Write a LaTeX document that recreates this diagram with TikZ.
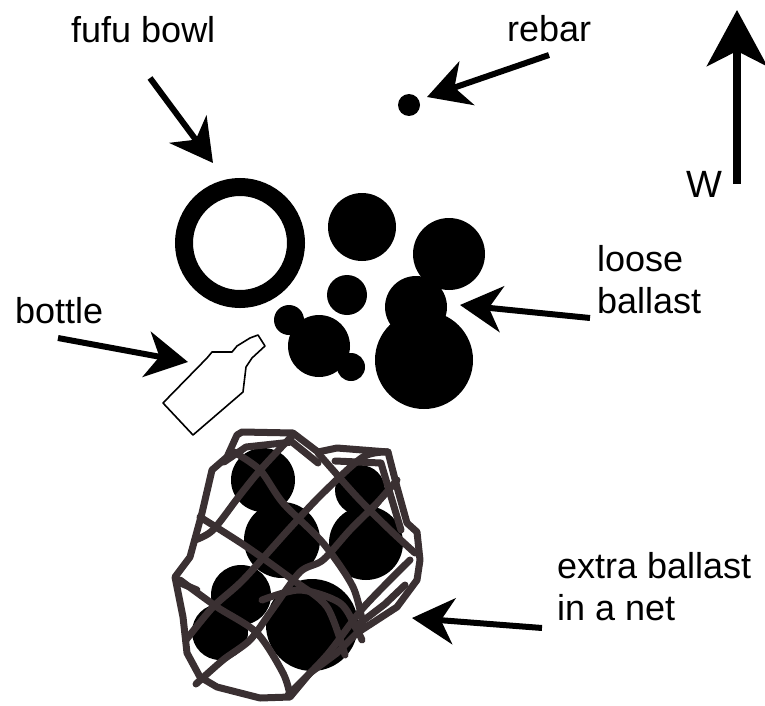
\documentclass[tikz,border=0pt]{standalone}
\usepackage{fontspec}
\setmainfont{Liberation Sans}
\usetikzlibrary{arrows.meta}
\definecolor{netc}{RGB}{58,48,50}
\tikzset{
  tag/.style={font=\fontsize{36}{42}\selectfont, anchor=base west, inner sep=0pt, align=left},
  pointer/.style={line width=6pt, -{Stealth[length=42pt,width=46pt,inset=13pt]}},
  north arrow/.style={line width=8.5pt, -{Stealth[length=56pt,width=60pt,inset=15pt]}},
  stone/.style={fill=black},
  netline/.style={draw=netc, line width=7pt, line join=round, line cap=round},
}
\begin{document}
\begin{tikzpicture}[x=1pt,y=-1pt]
\useasboundingbox (0,0) rectangle (765,706);

% labels
\node[tag] (fufu) at (71,43) {fufu bowl};
\node[tag] (rebarlbl) at (507,42) {rebar};
\node[tag, font=\fontsize{38}{42}\selectfont] (west) at (686,197) {W};
\node[tag] (bottlelbl) at (15,323) {bottle};
\node[tag] (loose) at (597,313) {loose\\ballast};
\node[tag] (extra) at (557,620) {extra ballast\\in a net};

% fufu bowl
\draw[line width=18pt] (240,243) circle[radius=56];

% rebar
\fill (409,105) circle[radius=11];

% loose ballast stones
\fill[stone] (362,227) circle[radius=34];
\fill[stone] (347,295) circle[radius=20];
\fill[stone] (449,254) circle[radius=36];
\fill[stone] (416,307) circle[radius=31];
\fill[stone] (424,360) circle[radius=49];
\fill[stone] (289,320) circle[radius=15];
\fill[stone] (319,346) circle[radius=31];
\fill[stone] (351,367) circle[radius=14];

% bottle
\draw[line width=1.6pt, fill=white, line join=round]
  (163,403) -- (193,435) -- (243,392) -- (246,367) -- (252,358) -- (265,346)
  -- (258,335) -- (250,338) -- (237,346) -- (232,352) -- (212,352) -- (207,358) -- cycle;

% extra ballast stones under the net
\fill[stone] (263,480) circle[radius=32];
\fill[stone] (282,540) circle[radius=38];
\fill[stone] (360,490) circle[radius=25];
\fill[stone] (366,543) circle[radius=37];
\fill[stone] (241,595) circle[radius=30];
\fill[stone] (220,632) circle[radius=28];
\fill[stone] (312,625) circle[radius=46];

% net outline
\draw[netline]
  (242,432) -- (293,433) -- (318,452) -- (337,448) -- (388,452) -- (397,487)
  -- (407,523) -- (417,532) -- (420,560) -- (417,580) -- (397,607) -- (357,633)
  -- (337,653) -- (310,673) -- (290,697) -- (260,698) -- (217,687) -- (200,677)
  -- (187,653) -- (183,617) -- (175,577) -- (190,557) -- (202,513) -- (212,470)
  -- (227,457) -- (237,435) -- cycle;
% inner edge strands
\draw[netline] (224,462) -- (246,447) -- (292,442) -- (318,463);
\draw[netline] (335,461) -- (381,463) -- (392,500) -- (401,530);
\draw[netline] (405,585) -- (385,604) -- (355,627);
\draw[netline] (178,582) -- (197,590);
% strands running up to the right
\draw[netline] plot[smooth] coordinates {(195,540) (213,530) (240,495) (262,468) (292,436)};
\draw[netline] plot[smooth] coordinates {(186,640) (213,607) (243,580) (290,528) (323,493) (363,457) (388,452)};
\draw[netline] plot[smooth] coordinates {(196,684) (223,660) (250,640) (272,610) (300,572) (323,560) (350,530) (377,503) (397,480)};
\draw[netline] plot[smooth] coordinates {(288,695) (327,655) (363,608) (410,560)};
% strands running down to the right
\draw[netline] plot[smooth] coordinates {(234,452) (260,470) (283,503) (323,543) (353,587) (363,625)};
\draw[netline] plot[smooth] coordinates {(200,517) (247,547) (293,580) (327,607) (345,655)};
\draw[netline] plot[smooth] coordinates {(180,580) (217,607) (257,633) (283,673) (290,695)};
\draw[netline] plot[smooth] coordinates {(318,453) (357,497) (390,530) (415,553)};
\draw[netline] plot[smooth] coordinates {(262,600) (300,590) (340,603) (357,630) (362,640)};

% arrow end points
\coordinate (fufuTail) at (150,78);
\coordinate (fufuTip) at (213,163);
\coordinate (rebarTail) at (549,55);
\coordinate (rebarTip) at (427,97);
\coordinate (westTail) at (737,184);
\coordinate (westTip) at (737,10);
\coordinate (bottleTail) at (58,338);
\coordinate (bottleTip) at (188,362);
\coordinate (looseTail) at (590,318);
\coordinate (looseTip) at (460,305);
\coordinate (extraTail) at (542,628);
\coordinate (extraTip) at (412,618);

% pointers
\draw[pointer] (fufuTail) -- (fufuTip);
\draw[pointer] (rebarTail) -- (rebarTip);
\draw[pointer] (bottleTail) -- (bottleTip);
\draw[pointer] (looseTail) -- (looseTip);
\draw[pointer] (extraTail) -- (extraTip);
\draw[north arrow] (westTail) -- (westTip);
\end{tikzpicture}
\end{document}
